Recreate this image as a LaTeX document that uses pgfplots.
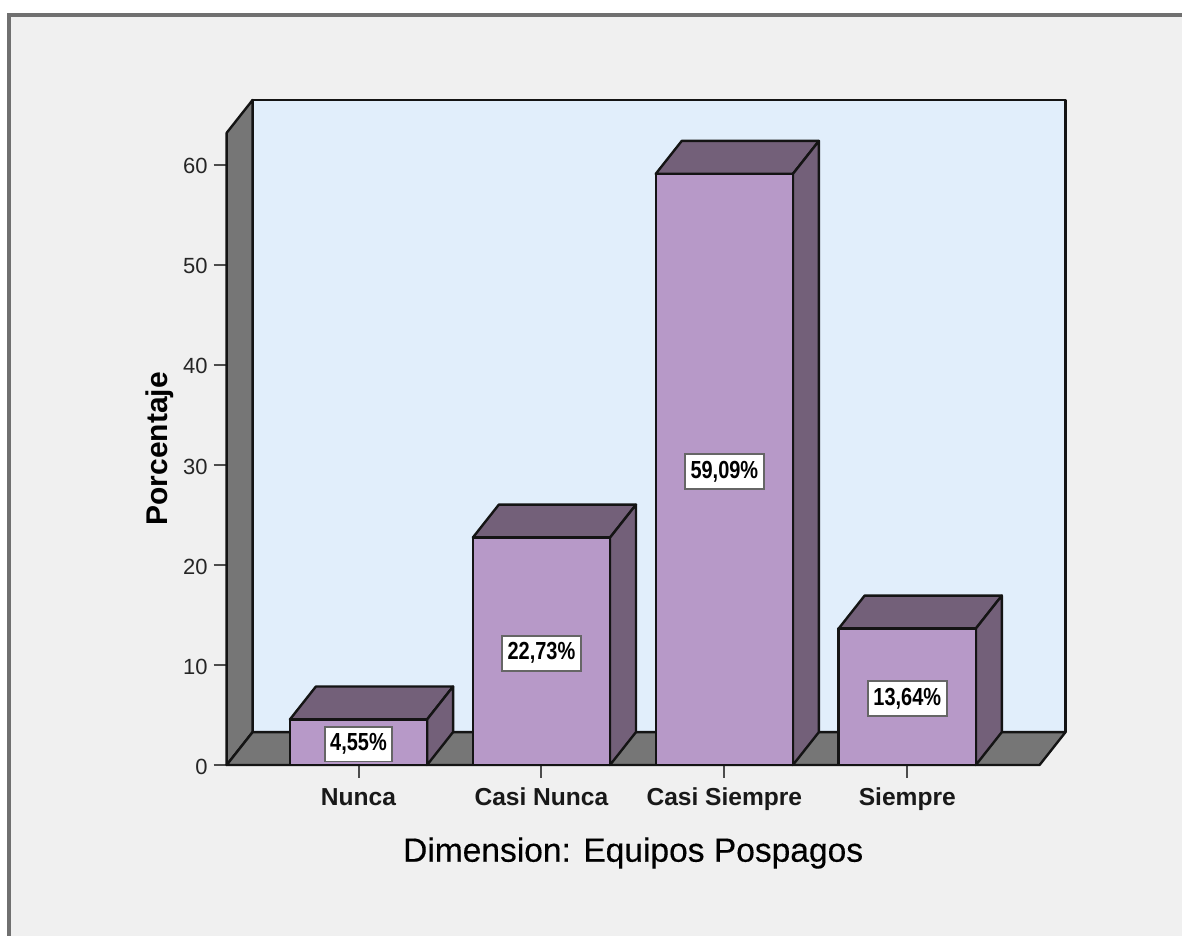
\documentclass[border=0pt]{standalone}
\usepackage{graphicx}
\usepackage{pgfplots}
\pgfplotsset{compat=1.18}
\usepackage{fontspec}
\setmainfont{Liberation Sans}
\definecolor{panel}{HTML}{F0F0F0}
\definecolor{frame}{HTML}{707070}
\definecolor{backwall}{HTML}{E1EEFB}
\definecolor{wall}{HTML}{767676}
\definecolor{barfront}{HTML}{B799C8}
\definecolor{barshade}{HTML}{736079}
\definecolor{edge}{HTML}{141414}
\newcommand{\vallabel}[1]{\scalebox{0.97}[1.2]{#1}}
\begin{document}
\begin{tikzpicture}[x=1pt,y=1pt]
% page and chart panel
\fill[white] (-113.5,-85.5) rectangle (478.5,383);
\fill[panel] (-109,-85.5) rectangle (478.5,375.5);
\draw[frame,line width=1.6pt] (-109,-85.5) -- (-109,375.5) -- (478.5,375.5);
\begin{axis}[
  at={(0pt,0pt)}, anchor=south west,
  scale only axis, width=407pt, height=316.5pt,
  xmin=-0.7206, xmax=3.7233, ymin=0, ymax=63.19,
  clip=false,
  axis lines=left,
  axis line style={draw=none},
  tick align=outside,
  major tick length=6.5pt,
  tick style={draw=black!70, line width=1pt},
  xtick={0,1,2,3},
  xticklabels={Nunca,Casi Nunca,Casi Siempre,Siempre},
  ytick={0,10,20,30,40,50,60},
  /pgf/number format/assume math mode=true,
  yticklabel style={font=\fontsize{11}{12}\selectfont, text=black!85, xshift=0.5pt, yshift=-0.8pt},
  xticklabel style={font=\fontsize{12.3}{14}\selectfont\bfseries, text=black!90, yshift=-1.3pt,
    text height=9pt, text depth=2.5pt},
  xlabel={Dimension: Equipos Pospagos},
  xlabel style={font=\fontsize{16.8}{20}\selectfont\addfontfeature{FakeBold=0.35}, at={(axis description cs:0.5,-0.133)}, anchor=center, yshift=-2pt},
  ylabel={Porcentaje},
  ylabel style={font=\fontsize{15}{18}\selectfont\bfseries, at={(axis description cs:-0.082,0.5)}, anchor=center, rotate=0},
  every axis plot/.append style={draw=edge, line width=1.2pt, line join=round},
]
% back wall, side wall and floor
\addplot[fill=backwall] coordinates {(-0.5786,3.29) (-0.5786,66.48) (3.8653,66.48) (3.8653,3.29)} -- cycle;
\addplot[fill=wall] coordinates {(-0.7206,0) (-0.5786,3.29) (-0.5786,66.48) (-0.7206,63.19)} -- cycle;
\addplot[fill=wall] coordinates {(-0.7206,0) (-0.5786,3.29) (3.8653,3.29) (3.7233,0)} -- cycle;
% bar tops
\addplot[fill=barshade] coordinates {(-0.375,4.55) (-0.233,7.84) (0.517,7.84) (0.375,4.55)} -- cycle;
\addplot[fill=barshade] coordinates {(0.625,22.73) (0.767,26.02) (1.517,26.02) (1.375,22.73)} -- cycle;
\addplot[fill=barshade] coordinates {(1.625,59.09) (1.767,62.38) (2.517,62.38) (2.375,59.09)} -- cycle;
\addplot[fill=barshade] coordinates {(2.625,13.64) (2.767,16.93) (3.517,16.93) (3.375,13.64)} -- cycle;
% bar right sides
\addplot[fill=barshade] coordinates {(0.375,0) (0.517,3.29) (0.517,7.84) (0.375,4.55)} -- cycle;
\addplot[fill=barshade] coordinates {(1.375,0) (1.517,3.29) (1.517,26.02) (1.375,22.73)} -- cycle;
\addplot[fill=barshade] coordinates {(2.375,0) (2.517,3.29) (2.517,62.38) (2.375,59.09)} -- cycle;
\addplot[fill=barshade] coordinates {(3.375,0) (3.517,3.29) (3.517,16.93) (3.375,13.64)} -- cycle;
% bar fronts
\addplot[ybar, bar width=68.7pt, fill=barfront] coordinates {(0,4.55) (1,22.73) (2,59.09) (3,13.64)};
% baseline
\addplot[mark=none] coordinates {(-0.7206,0) (3.7233,0)};
% value labels at mid height of each bar
\tikzset{val/.style={fill=white, draw=black!60, line width=0.8pt, inner sep=0pt, yshift=-1pt,
  minimum height=17.5pt, font=\fontsize{10.3}{12}\selectfont\bfseries}}
\node[val, minimum width=33.5pt] at (axis cs:0,2.275) {\vallabel{4,55\%}};
\node[val, minimum width=39.5pt] at (axis cs:1,11.365) {\vallabel{22,73\%}};
\node[val, minimum width=39.5pt] at (axis cs:2,29.545) {\vallabel{59,09\%}};
\node[val, minimum width=39.5pt] at (axis cs:3,6.82) {\vallabel{13,64\%}};
\end{axis}
\end{tikzpicture}
\end{document}
